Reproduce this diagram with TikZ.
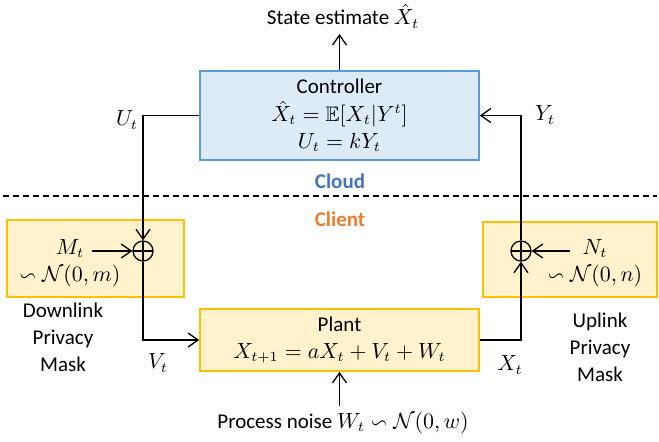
\documentclass[tikz,border=0pt]{standalone}
\usepackage{amsmath,amssymb}
\usepackage{fontspec}
\setmainfont{Carlito}
\usetikzlibrary{arrows.meta}
\definecolor{cfill}{HTML}{DDEBF7}
\definecolor{cborder}{HTML}{5B9BD5}
\definecolor{yfill}{HTML}{FFF2CC}
\definecolor{yborder}{HTML}{FFC000}
\definecolor{cloudc}{HTML}{4472C4}
\definecolor{clientc}{HTML}{ED7D31}
\begin{document}
\begin{tikzpicture}[x=0.5pt,y=-0.5pt,
  font=\fontsize{10.5}{13.5}\selectfont,
  conn/.style={line width=0.65pt,-{Straight Barb[length=5pt,width=7pt]}},
  ctrlbox/.style={draw=cborder,fill=cfill,line width=0.7pt,minimum width=139.5pt,minimum height=44.5pt,align=center,inner sep=0pt},
  plantbox/.style={draw=yborder,fill=yfill,line width=0.8pt,minimum width=139.5pt,minimum height=31pt,align=center,inner sep=0pt},
  maskbox/.style={draw=yborder,fill=yfill,line width=0.8pt,inner sep=0pt},
  sumc/.style={circle,draw,line width=0.65pt,minimum size=10pt,inner sep=0pt,
    path picture={\draw[line width=0.65pt] (path picture bounding box.north) -- (path picture bounding box.south)
      (path picture bounding box.west) -- (path picture bounding box.east);}},
  lbl/.style={inner sep=0pt,align=center},
  region/.style={inner sep=0pt,font=\fontsize{10.5}{13.5}\selectfont\bfseries}]
\useasboundingbox (0,0) rectangle (659,441);
% mask boxes
\node[maskbox,minimum width=88.5pt,minimum height=38.5pt] (lmask) at (95.5,258.5) {};
\node[maskbox,minimum width=87pt,minimum height=37.5pt] (rmask) at (570,259.5) {};
% main boxes
\node[ctrlbox] (ctrl) at (339.5,115.5) {Controller\\[0.5pt] $\hat{X}_t=\mathbb{E}[X_t|Y^t]$\\ $U_t=kY_t$};
\node[plantbox] (plant) at (339.5,340) {Plant\\ $X_{t+1}=aX_t+V_t+W_t$};
% summing junctions
\node[sumc] (lsum) at (143,251) {};
\node[sumc] (rsum) at (521,251) {};
% texts
\node[lbl] (est) at (343,16) {State estimate $\hat{X}_t$};
\node[lbl] (noise) at (343,423) {Process noise $W_t\backsim\mathcal{N}(0,w)$};
\node[lbl] (mt) at (70,263) {$M_t$\\ $\backsim\mathcal{N}(0,m)$};
\node[lbl] (nt) at (595,263) {$N_t$\\ $\backsim\mathcal{N}(0,n)$};
\node[lbl] (down) at (63,337) {Downlink\\ Privacy\\ Mask};
\node[lbl] (up) at (600,347) {Uplink\\ Privacy\\ Mask};
\node[lbl] (ut) at (127,120) {$U_t$};
\node[lbl] (yt) at (545,115) {$Y_t$};
\node[lbl] (vt) at (158,363) {$V_t$};
\node[lbl] (xt) at (510,365) {$X_t$};
\node[region,text=cloudc] (cloud) at (340,181) {Cloud};
\node[region,text=clientc] (client) at (340,219) {Client};
% divider
\draw[line width=0.6pt,dash pattern=on 3pt off 2pt] (3,196) -- (657,196);
% free ends
\coordinate (mstart) at (92,251);
\coordinate (nstart) at (570,251);
\coordinate (estend) at (339.5,34);
\coordinate (noisestart) at (339.5,406);
% connectors
\draw[conn] (ctrl.west) -| (lsum.north);
\draw[conn] (lsum.south) |- (plant.west);
\draw[conn] (plant.east) -| (rsum.south);
\draw[conn] (rsum.north) |- (ctrl.east);
\draw[conn] (ctrl.north) -- (estend);
\draw[conn] (noisestart) -- (plant.south);
\draw[conn] (mstart) -- (lsum.west);
\draw[conn] (nstart) -- (rsum.east);
\end{tikzpicture}
\end{document}
